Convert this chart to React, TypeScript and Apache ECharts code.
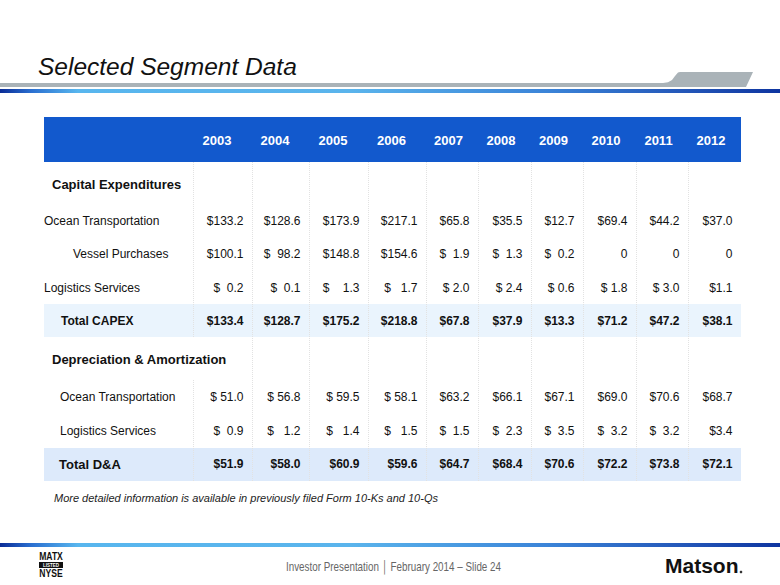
import React, { useEffect, useRef } from 'react';
import * as echarts from 'echarts';

// ---------------- data ----------------
const years = ['2003', '2004', '2005', '2006', '2007', '2008', '2009', '2010', '2011', '2012'];
const capexOcean = [133.2, 128.6, 173.9, 217.1, 65.8, 35.5, 12.7, 69.4, 44.2, 37.0];
const capexVessel = [100.1, 98.2, 148.8, 154.6, 1.9, 1.3, 0.2, 0, 0, 0];
const capexLogistics = [0.2, 0.1, 1.3, 1.7, 2.0, 2.4, 0.6, 1.8, 3.0, 1.1];
const totalCapex = [133.4, 128.7, 175.2, 218.8, 67.8, 37.9, 13.3, 71.2, 47.2, 38.1];
const daOcean = [51.0, 56.8, 59.5, 58.1, 63.2, 66.1, 67.1, 69.0, 70.6, 68.7];
const daLogistics = [0.9, 1.2, 1.4, 1.5, 1.5, 2.3, 3.5, 3.2, 3.2, 3.4];
const totalDA = [51.9, 58.0, 60.9, 59.6, 64.7, 68.4, 70.6, 72.2, 73.8, 72.1];
const rowLabels = [
  'Capital Expenditures',
  'Ocean Transportation',
  'Vessel Purchases',
  'Logistics Services',
  'Total CAPEX',
  'Depreciation & Amortization',
  'Ocean Transportation',
  'Logistics Services',
  'Total D&A',
];
const titleText = 'Selected Segment Data';
const footnoteText = 'More detailed information is available in previously filed Form 10-Ks and 10-Qs';
const footerText = 'Investor Presentation \u2502 February 2014 \u2013 Slide 24';

// ---------------- layout / style ----------------
const FONT = 'Arial, "Liberation Sans", Helvetica, sans-serif';
const TL = 44, TT = 117, TW = 697, TH = 364;
const colEdges = [0, 149, 208, 265, 324, 382, 434, 487, 539, 592, 644, 697];
// dollar-sign spacing (accounting format look), per row
const gapVessel = [0, 2, 0, 0, 2, 2, 2, 0, 0, 0];
const gapCapLog = [2, 2, 4, 3, 1, 1, 1, 1, 1, 0];
const gapDaOcean = [1, 1, 1, 1, 0, 0, 0, 0, 0, 0];
const gapDaLog = [2, 3, 3, 3, 2, 2, 2, 2, 2, 0];
const gapNone = [0, 0, 0, 0, 0, 0, 0, 0, 0, 0];

type RowDef = { y: number; lx: number; lsize: number; lbold: boolean; values?: number[]; gaps?: number[]; vbold?: boolean };
const rows: RowDef[] = [
  { y: 67, lx: 8, lsize: 13, lbold: true },
  { y: 104, lx: 0, lsize: 12, lbold: false, values: capexOcean, gaps: gapNone },
  { y: 137, lx: 29, lsize: 12, lbold: false, values: capexVessel, gaps: gapVessel },
  { y: 171, lx: 0, lsize: 12, lbold: false, values: capexLogistics, gaps: gapCapLog },
  { y: 204, lx: 17, lsize: 12, lbold: true, values: totalCapex, gaps: gapNone, vbold: true },
  { y: 242, lx: 8, lsize: 13, lbold: true },
  { y: 280, lx: 16, lsize: 12, lbold: false, values: daOcean, gaps: gapDaOcean },
  { y: 314, lx: 16, lsize: 12, lbold: false, values: daLogistics, gaps: gapDaLog },
  { y: 347, lx: 15, lsize: 13, lbold: true, values: totalDA, gaps: gapNone, vbold: true },
];
const bands = [
  { y0: 0, y1: 45, color: '#1259CD' },
  { y0: 187, y1: 220, color: '#EAF4FD' },
  { y0: 331, y1: 364, color: '#DDEAFB' },
];

function fmt(v: number, gap: number) {
  if (v === 0) return '0';
  return '$' + '\u00A0'.repeat(gap) + v.toFixed(1);
}

type Cell = { x: number; y: number; text: string; align: string; size: number; bold: boolean; color: string };
function buildCells(): Cell[] {
  const cells: Cell[] = [];
  years.forEach((yr, i) => {
    const l = colEdges[i + 1], r = colEdges[i + 2];
    const shift = i < 4 ? 5.5 : 3.5;
    cells.push({ x: (l + r) / 2 - shift, y: 23, text: yr, align: 'center', size: 13, bold: true, color: '#FFFFFF' });
  });
  rows.forEach((row, ri) => {
    cells.push({ x: row.lx, y: row.y, text: rowLabels[ri], align: 'left', size: row.lsize, bold: row.lbold, color: '#111111' });
    if (row.values) {
      row.values.forEach((v, i) => {
        cells.push({
          x: colEdges[i + 2] - 8.5,
          y: row.y,
          text: fmt(v, row.gaps ? row.gaps[i] : 0),
          align: 'right',
          size: 12,
          bold: !!row.vbold,
          color: '#111111',
        });
      });
    }
  });
  return cells;
}

function buildDividers() {
  const segs: number[][] = [];
  for (let k = 1; k <= 10; k++) {
    const x = colEdges[k];
    if (k === 1) {
      segs.push([x, 45, 220]);
      segs.push([x, 263, 364]);
    } else {
      segs.push([x, 45, 364]);
    }
  }
  return segs;
}

export default function App() {
  const ref = useRef<HTMLDivElement>(null);
  useEffect(() => {
    if (!ref.current) return;
    const chart = echarts.init(ref.current, undefined, { renderer: 'svg' });
    const cells = buildCells();
    const segs = buildDividers();
    const blueGrad = () =>
      new echarts.graphic.LinearGradient(0, 0, 1, 0, [
        { offset: 0, color: '#0A2C96' },
        { offset: 0.04, color: '#2A6FD0' },
        { offset: 0.1, color: '#58B6EE' },
        { offset: 0.45, color: '#5AB4EC' },
        { offset: 0.7, color: '#3B84D8' },
        { offset: 0.88, color: '#2356B8' },
        { offset: 1, color: '#0E35A0' },
      ]);
    chart.setOption({
      animation: false,
      backgroundColor: '#FFFFFF',
      grid: { left: TL, top: TT, width: TW, height: TH },
      xAxis: { type: 'value', min: 0, max: TW, show: false },
      yAxis: { type: 'value', min: 0, max: TH, inverse: true, show: false },
      series: [
        {
          type: 'custom',
          z: 1,
          data: bands.map((b) => [0, b.y0, TW, b.y1]),
          renderItem: (params: any, api: any) => {
            const b = bands[params.dataIndex];
            const p0 = api.coord([0, b.y0]);
            const p1 = api.coord([TW, b.y1]);
            return { type: 'rect', shape: { x: p0[0], y: p0[1], width: p1[0] - p0[0], height: p1[1] - p0[1] }, style: { fill: b.color } };
          },
        },
        {
          type: 'custom',
          z: 2,
          data: segs.map((s) => [s[0], s[1], s[2]]),
          renderItem: (params: any, api: any) => {
            const s = segs[params.dataIndex];
            const p0 = api.coord([s[0], s[1]]);
            const p1 = api.coord([s[0], s[2]]);
            const x = Math.round(p0[0]) + 0.5;
            return { type: 'line', shape: { x1: x, y1: p0[1], x2: x, y2: p1[1] }, style: { stroke: '#E2E2E2', lineWidth: 1, lineDash: [1, 1] } };
          },
        },
        {
          type: 'custom',
          z: 3,
          data: cells.map((c) => [c.x, c.y]),
          renderItem: (params: any, api: any) => {
            const c = cells[params.dataIndex];
            const p = api.coord([c.x, c.y]);
            return {
              type: 'text',
              x: p[0],
              y: p[1],
              style: {
                text: c.text,
                align: c.align,
                verticalAlign: 'middle',
                fontSize: c.size,
                fontWeight: c.bold ? 'bold' : 'normal',
                fontFamily: FONT,
                fill: c.color,
              },
            };
          },
        },
      ],
      graphic: [
        {
          type: 'text',
          x: 38,
          y: 66.5,
          style: { text: titleText, fontSize: 24.5, fontStyle: 'italic', fontFamily: FONT, fill: '#111111', verticalAlign: 'middle', align: 'left' },
        },
        {
          type: 'polygon',
          shape: {
            points: [
              [0, 83], [663, 83], [668, 82.2], [672, 80], [675, 76], [678, 72.5], [680, 72],
              [753, 72], [746, 87], [0, 87],
            ],
          },
          style: { fill: '#AAB3B8' },
        },
        { type: 'rect', shape: { x: 0, y: 89, width: 780, height: 4 }, style: { fill: blueGrad() } },
        { type: 'rect', shape: { x: 0, y: 543, width: 780, height: 4 }, style: { fill: blueGrad() } },
        {
          type: 'text',
          x: 54,
          y: 498,
          style: { text: footnoteText, fontSize: 11, fontStyle: 'italic', fontFamily: FONT, fill: '#222222', verticalAlign: 'middle', align: 'left' },
        },
        {
          type: 'text',
          x: 286,
          y: 567,
          scaleX: 0.82,
          style: { text: footerText, fontSize: 12, fontFamily: FONT, fill: '#666666', verticalAlign: 'middle', align: 'left' },
        },
        // NYSE listing mark
        {
          type: 'text',
          x: 51,
          y: 556,
          scaleX: 0.78,
          style: { text: 'MATX', fontSize: 11, fontWeight: 'bold', fontFamily: FONT, fill: '#111111', verticalAlign: 'middle', align: 'center' },
        },
        { type: 'rect', shape: { x: 39, y: 562, width: 24, height: 6 }, style: { fill: '#111111' } },
        {
          type: 'text',
          x: 51,
          y: 565,
          scaleX: 0.9,
          style: { text: 'LISTED', fontSize: 5, fontWeight: 'bold', fontFamily: FONT, fill: '#FFFFFF', verticalAlign: 'middle', align: 'center' },
        },
        {
          type: 'text',
          x: 51,
          y: 573.5,
          scaleX: 0.78,
          style: { text: 'NYSE', fontSize: 11, fontWeight: 'bold', fontFamily: FONT, fill: '#111111', verticalAlign: 'middle', align: 'center' },
        },
        // Matson wordmark
        {
          type: 'text',
          x: 665,
          y: 565.5,
          style: { text: 'Matson', fontSize: 21, fontWeight: 'bold', fontFamily: FONT, fill: '#111111', verticalAlign: 'middle', align: 'left' },
        },
        { type: 'circle', shape: { cx: 741, cy: 572, r: 1.3 }, style: { fill: '#333333' } },
      ],
    });
    return () => chart.dispose();
  }, []);
  return <div ref={ref} style={{ position: 'absolute', left: 0, top: 0, width: 780, height: 585, background: '#fff' }} />;
}
